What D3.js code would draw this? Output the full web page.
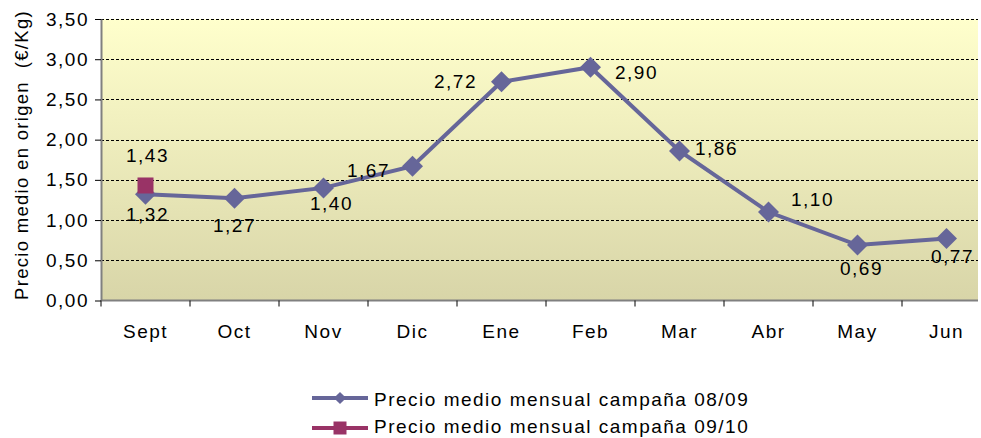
<!DOCTYPE html>
<html>
<head>
<meta charset="utf-8">
<script src="https://cdn.jsdelivr.net/npm/d3@7"></script>
<style>
body { margin: 0; background: #fff; }
text { font-family: "Liberation Sans", Arial, sans-serif; fill: #000; }
</style>
</head>
<body>
<div id="chart"></div>
<script>
var months = ["Sept", "Oct", "Nov", "Dic", "Ene", "Feb", "Mar", "Abr", "May", "Jun"];
var precio0809 = [1.32, 1.27, 1.40, 1.67, 2.72, 2.90, 1.86, 1.10, 0.69, 0.77];
var precio0910 = [1.43];
var yTicks = [0, 0.5, 1, 1.5, 2, 2.5, 3, 3.5];
var seriesNames = ["Precio medio mensual campaña 08/09", "Precio medio mensual campaña 09/10"];
// label offsets (dx, dy) for each point of 08/09
var labelOffsets = [[2, 27], [0, 34], [8, 22], [-44, 11], [-46, 6], [46, 12], [37, 4], [44, -6], [4, 30], [6, 24]];

var width = 981, height = 438;
var plotLeft = 101, plotTop = 19, plotBottom = 300.5, plotRight = 978;
var fontSize = 19, spacing = 1.5;

var svg = d3.select("#chart").append("svg")
	.attr("width", width)
	.attr("height", height);

var x = d3.scaleBand().domain(months).range([plotLeft, plotLeft + 89 * months.length]);
var y = d3.scaleLinear().domain([0, 3.5]).range([plotBottom, plotTop]);
var fmt = function (v) { return d3.format(".2f")(v).replace(".", ","); };

// background gradient
var grad = svg.append("defs").append("linearGradient")
	.attr("id", "bg").attr("x1", 0).attr("y1", 0).attr("x2", 0).attr("y2", 1);
grad.append("stop").attr("offset", "0%").attr("stop-color", "#ffffcc");
grad.append("stop").attr("offset", "100%").attr("stop-color", "#d8d5a8");

svg.append("rect")
	.attr("x", plotLeft).attr("y", plotTop)
	.attr("width", plotRight - plotLeft).attr("height", plotBottom - plotTop)
	.attr("fill", "url(#bg)");

// dashed gridlines
svg.selectAll("line.grid")
	.data(yTicks.slice(1))
	.enter()
	.append("line")
	.attr("class", "grid")
	.attr("x1", plotLeft).attr("x2", plotRight)
	.attr("y1", function (d) { return Math.round(y(d)) + 0.5; })
	.attr("y2", function (d) { return Math.round(y(d)) + 0.5; })
	.attr("stroke", "#000")
	.attr("stroke-width", 1)
	.attr("stroke-dasharray", "3,2");

// y axis
var yAxis = svg.append("g")
	.attr("transform", "translate(" + plotLeft + ",0)")
	.call(d3.axisLeft(y).tickValues(yTicks).tickFormat(fmt).tickSize(6).tickSizeOuter(0));
yAxis.select(".domain").attr("stroke", "#808080").attr("stroke-width", 2);
yAxis.selectAll(".tick line").attr("stroke", "#000");
yAxis.selectAll(".tick text")
	.attr("font-size", fontSize).attr("letter-spacing", spacing).attr("x", -12)
	.attr("font-family", "Liberation Sans, Arial, sans-serif");

// x axis
var xAxis = svg.append("g")
	.attr("transform", "translate(0," + plotBottom + ")")
	.call(d3.axisBottom(x).tickSize(0));
xAxis.select(".domain").remove();
xAxis.selectAll(".tick text")
	.attr("font-size", fontSize).attr("letter-spacing", spacing).attr("dy", 34)
	.attr("font-family", "Liberation Sans, Arial, sans-serif");
svg.append("line")
	.attr("x1", plotLeft).attr("x2", plotRight)
	.attr("y1", plotBottom).attr("y2", plotBottom)
	.attr("stroke", "#808080").attr("stroke-width", 2);
svg.selectAll("line.xtick")
	.data(months)
	.enter()
	.append("line")
	.attr("class", "xtick")
	.attr("x1", function (d) { return x(d); })
	.attr("x2", function (d) { return x(d); })
	.attr("y1", plotBottom).attr("y2", plotBottom + 6)
	.attr("stroke", "#000");

// y axis title
svg.append("text")
	.attr("transform", "translate(28," + 155 + ") rotate(-90)")
	.attr("text-anchor", "middle")
	.attr("font-size", 18.5)
	.attr("letter-spacing", 1.3)
	.attr("xml:space", "preserve")
	.text("Precio medio en origen  (€/Kg)");

// line 08/09
var line = d3.line()
	.x(function (d, i) { return x(months[i]) + x.bandwidth() / 2; })
	.y(function (d) { return y(d); });

svg.append("path")
	.datum(precio0809)
	.attr("d", line)
	.attr("fill", "none")
	.attr("stroke", "#666699")
	.attr("stroke-width", 4);

var diamond = d3.symbol().type(d3.symbolSquare).size(220);
svg.selectAll("path.diamond")
	.data(precio0809)
	.enter()
	.append("path")
	.attr("class", "diamond")
	.attr("d", diamond)
	.attr("transform", function (d, i) {
		return "translate(" + (x(months[i]) + x.bandwidth() / 2) + "," + y(d) + ") rotate(45)";
	})
	.attr("fill", "#666699");

// series 09/10
svg.selectAll("rect.sq")
	.data(precio0910)
	.enter()
	.append("rect")
	.attr("class", "sq")
	.attr("x", function (d, i) { return x(months[i]) + x.bandwidth() / 2 - 8; })
	.attr("y", function (d) { return y(d) - 8; })
	.attr("width", 16).attr("height", 16)
	.attr("fill", "#993366");

// data labels
svg.selectAll("text.lbl")
	.data(precio0809)
	.enter()
	.append("text")
	.attr("class", "lbl")
	.attr("x", function (d, i) { return x(months[i]) + x.bandwidth() / 2 + labelOffsets[i][0]; })
	.attr("y", function (d, i) { return y(d) + labelOffsets[i][1]; })
	.attr("text-anchor", "middle")
	.attr("font-size", fontSize)
	.attr("letter-spacing", spacing)
	.text(fmt);

svg.selectAll("text.lbl2")
	.data(precio0910)
	.enter()
	.append("text")
	.attr("class", "lbl2")
	.attr("x", function (d, i) { return x(months[i]) + x.bandwidth() / 2 + 2; })
	.attr("y", function (d) { return y(d) - 23; })
	.attr("text-anchor", "middle")
	.attr("font-size", fontSize)
	.attr("letter-spacing", spacing)
	.text(fmt);

// legend
var legendColors = ["#666699", "#993366"];
var legend = svg.selectAll("g.legend")
	.data(seriesNames)
	.enter()
	.append("g")
	.attr("class", "legend")
	.attr("transform", function (d, i) { return "translate(312," + (398 + i * 30) + ")"; });
legend.append("line")
	.attr("x1", 0).attr("x2", 56)
	.attr("stroke", function (d, i) { return legendColors[i]; })
	.attr("stroke-width", 4);
legend.append("path")
	.attr("d", function (d, i) { return d3.symbol().type(d3.symbolSquare).size(i === 0 ? 75 : 169)(); })
	.attr("transform", function (d, i) { return "translate(28,0)" + (i === 0 ? " rotate(45)" : ""); })
	.attr("fill", function (d, i) { return legendColors[i]; });
legend.append("text")
	.attr("x", 62).attr("y", function (d, i) { return i === 0 ? 8 : 5; })
	.attr("font-size", fontSize)
	.attr("letter-spacing", spacing)
	.text(function (d) { return d; });
</script>
</body>
</html>
